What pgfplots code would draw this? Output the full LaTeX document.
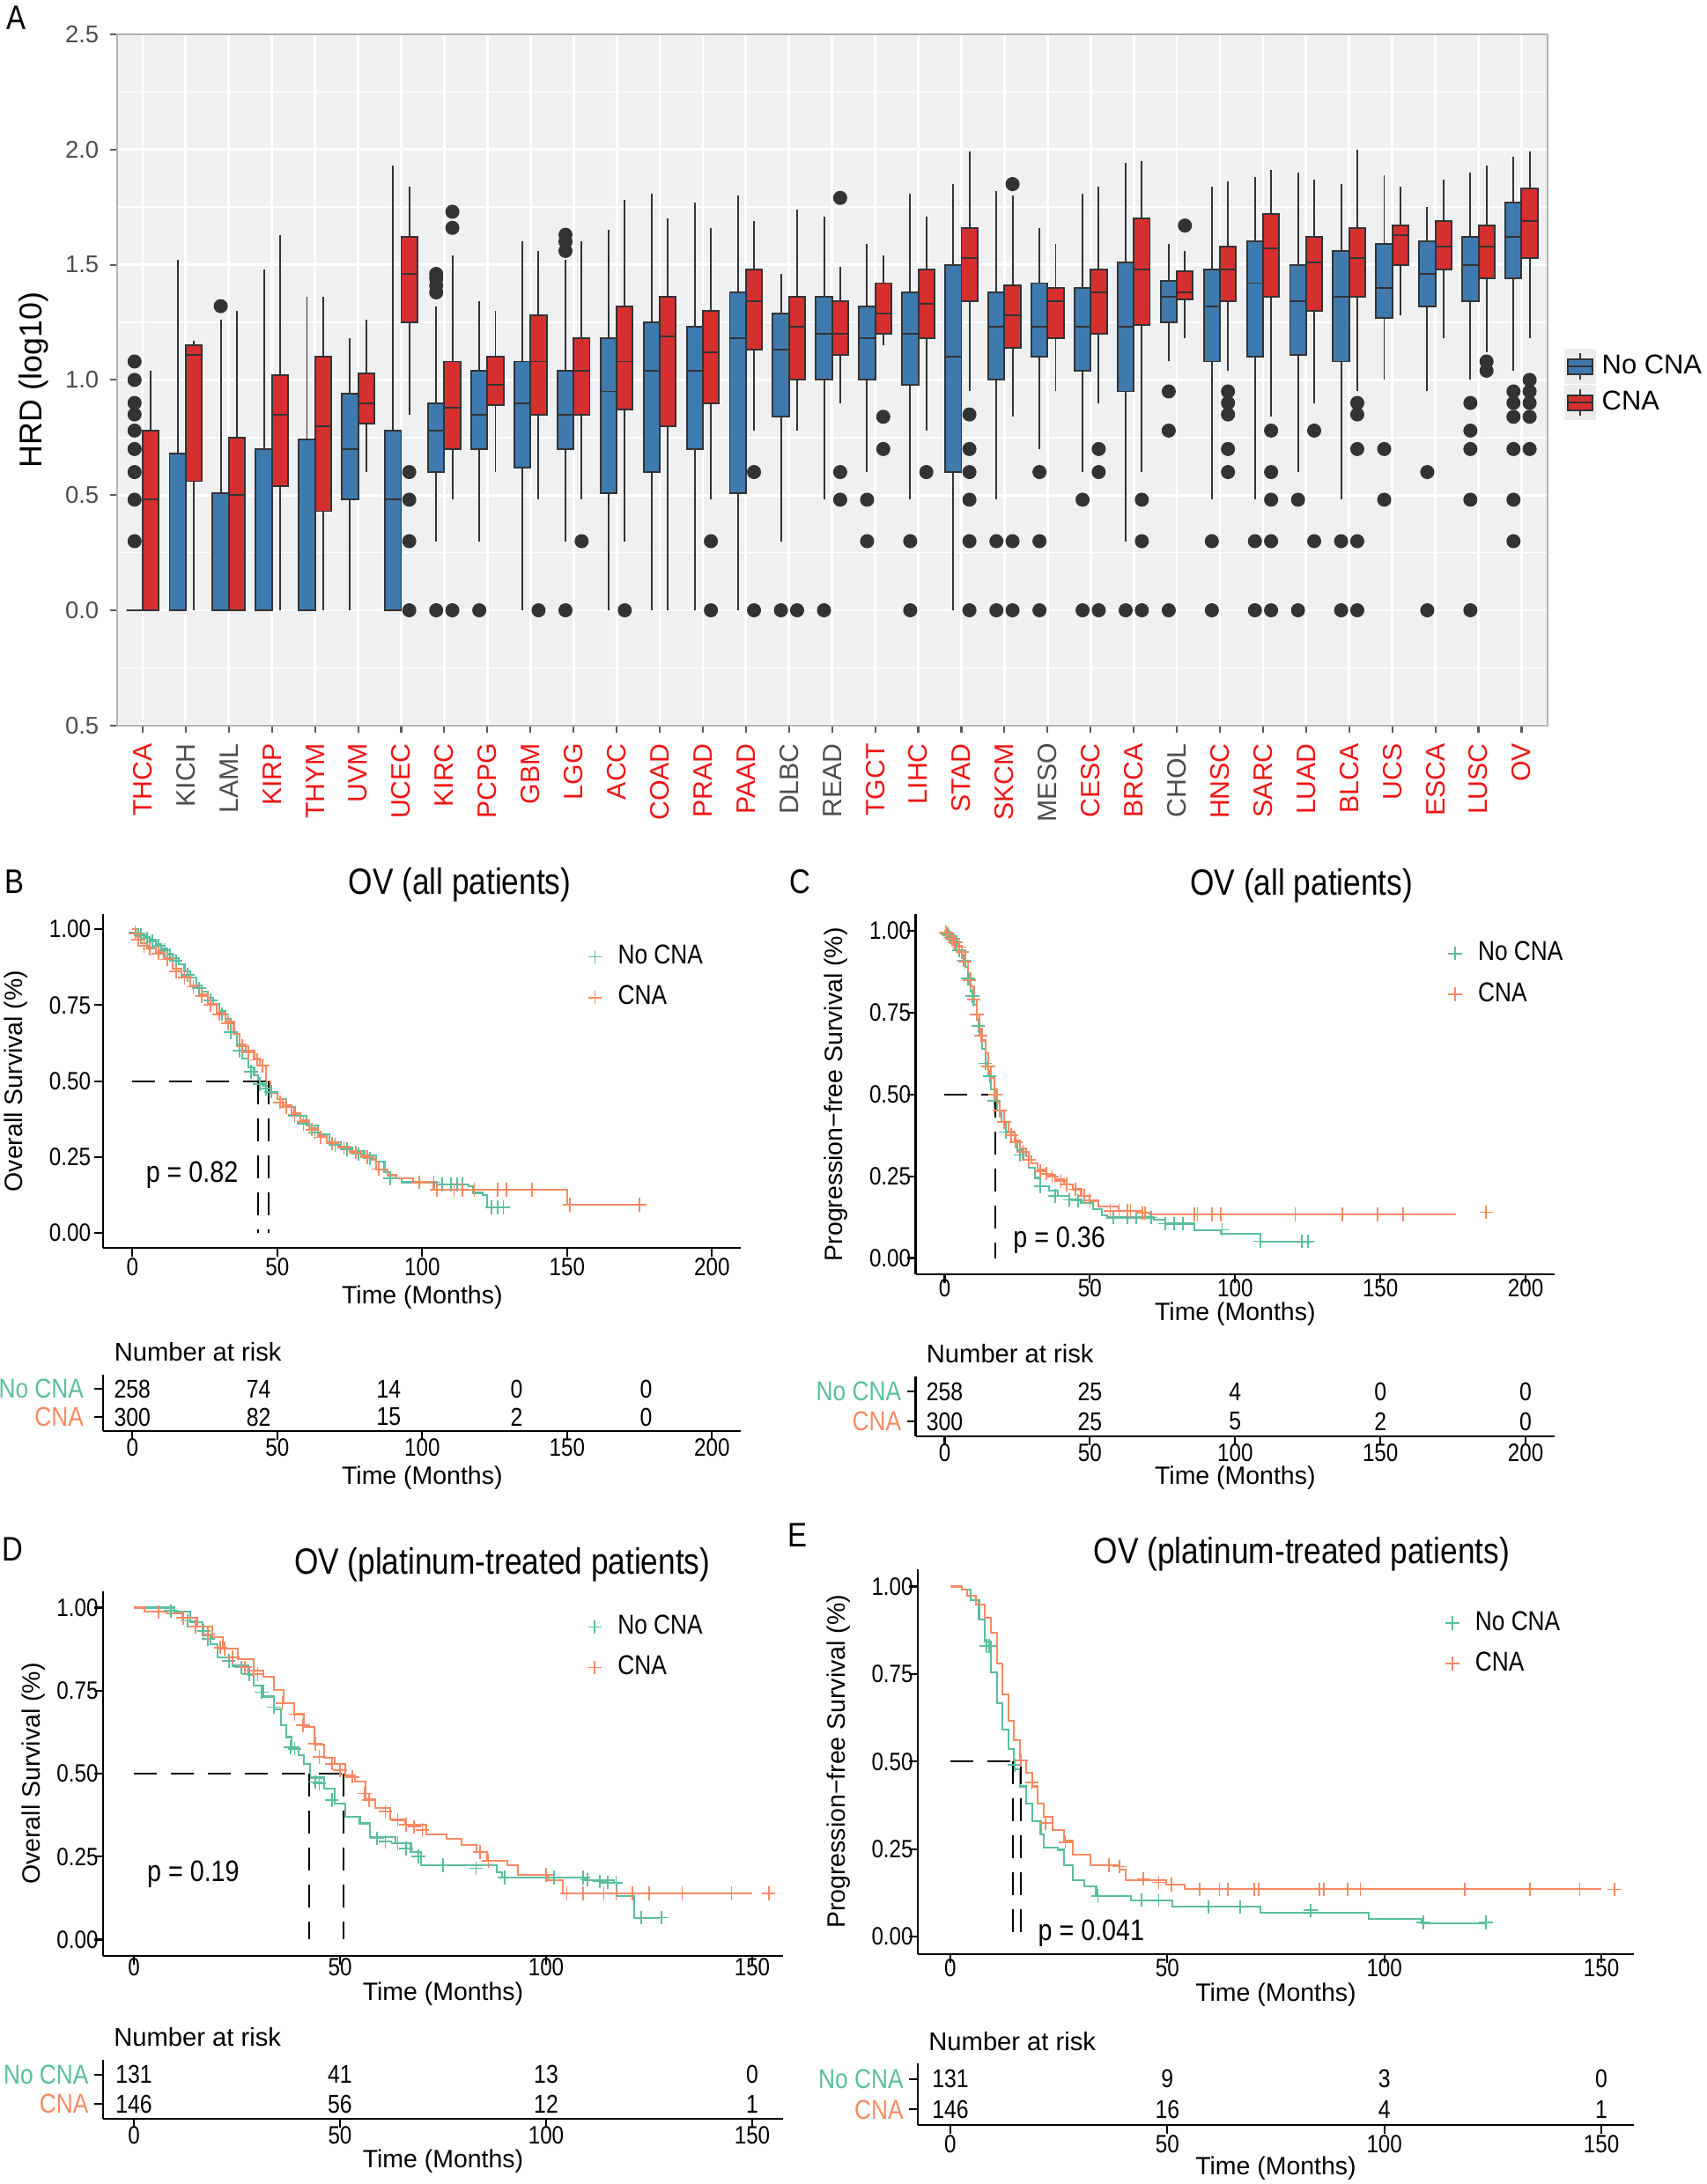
\documentclass[border=0pt]{standalone}
\usepackage{fontspec}
\setmainfont{Liberation Sans}[FakeStretch=0.85]
\newfontfamily\afont{Liberation Sans}
\usepackage{pgfplots}
\pgfplotsset{compat=1.18}
\usepgfplotslibrary{statistics}

\definecolor{boxblue}{HTML}{3F7AAE}
\definecolor{boxred}{HTML}{D62F2F}
\definecolor{dk}{HTML}{333333}
\definecolor{bgc}{HTML}{EFF0F1}
\definecolor{catred}{HTML}{F01414}
\definecolor{catgray}{HTML}{4D4D4D}
\definecolor{ncc}{HTML}{5BBE9F}
\definecolor{cnc}{HTML}{F88A63}

\pgfkeys{/pgf/number format/assume math mode=true}
\pgfplotsset{
  nc/.style={draw=dk, fill=boxblue, line width=0.55pt, mark=*, mark size=2pt, mark options={draw=dk, fill=dk}},
  cn/.style={draw=dk, fill=boxred, line width=0.55pt, mark=*, mark size=2pt, mark options={draw=dk, fill=dk}},
  bp/.style n args={6}{boxplot prepared={draw position=#1, lower whisker=#2, lower quartile=#3, median=#4, upper quartile=#5, upper whisker=#6}},
  km/.style={scale only axis, anchor=south west, axis lines=left,
    axis line style={-, line width=0.6pt, black}, tick align=outside,
    major tick length=1mm, tick style={black, line width=0.6pt},
    every tick label/.append style={font=\fontsize{8.1}{9.5}\selectfont},
    label style={font=\afont\fontsize{8.1}{9.5}\selectfont},
    title style={font=\fontsize{11.8}{14}\selectfont},
    legend cell align=left,
    legend style={draw=none, fill=none, font=\fontsize{8.8}{10.5}\selectfont, inner sep=0pt, row sep=1.5pt},
    legend image code/.code={\path[draw=none, fill=none] (0cm,-0.15cm) rectangle (0.3cm,0.15cm); \draw[#1] plot coordinates {(0.11cm,0cm)};}},
  kmplot/.style={km, ymin=-0.05, ymax=1.05, ytick={0,0.25,0.5,0.75,1},
    yticklabel style={/pgf/number format/fixed, /pgf/number format/fixed zerofill, /pgf/number format/precision=2},
    xlabel={Time (Months)}},
  kmtab/.style={km, ymin=0.5, ymax=2.5, ytick={1,2},
    yticklabels={{\color{cnc}CNA},{\color{ncc}No CNA}},
    yticklabel style={font=\fontsize{8.8}{10}\selectfont},
    title={Number at risk}, title style={at={(0,1)}, anchor=base west, yshift=-0.6mm, font=\afont\fontsize{8.3}{10}\selectfont},
    xlabel={Time (Months)}},
  kmline/.style={const plot, line width=0.6pt, mark=none},
  cens/.style={only marks, mark=+, mark size=2.2pt, mark options={line width=0.5pt}},
  kmleg/.style={only marks, mark=+, mark size=2.2pt, line width=0.5pt},
  med/.style={black, line width=0.6pt, dash pattern=on 2.6mm off 1.6mm, mark=none},
  risk/.style={draw=none, mark=none, nodes near coords, point meta=explicit symbolic,
    every node near coord/.style={anchor=center, inner sep=0pt, font=\fontsize{8.3}{9.5}\selectfont, black}},
}

\begin{document}
\begin{tikzpicture}
\path[use as bounding box] (0,0) rectangle (19.38cm,-24.80cm);

% ---------------- panel A ----------------
\node[font=\fontsize{11}{13}\selectfont] at (0.18cm,-0.2cm) {A};
\begin{axis}[at={(1.326cm,-8.238cm)}, anchor=south west, scale only axis,
  width=16.242cm, height=7.848cm,
  xmin=0.4, xmax=33.6, ymin=-0.5, ymax=2.5,
  axis background/.style={fill=bgc},
  axis line style={gray!60, line width=0.6pt},
  tick pos=left, tick align=outside, major tick length=0.8mm, minor tick length=0pt,
  tick style={gray!70!black, line width=0.6pt},
  xtick={1,...,33},
  xticklabels={{\color{catred}THCA},{\color{catgray}KICH},{\color{catgray}LAML},{\color{catred}KIRP},{\color{catred}THYM},{\color{catred}UVM},{\color{catred}UCEC},{\color{catred}KIRC},{\color{catred}PCPG},{\color{catred}GBM},{\color{catred}LGG},{\color{catred}ACC},{\color{catred}COAD},{\color{catred}PRAD},{\color{catred}PAAD},{\color{catgray}DLBC},{\color{catgray}READ},{\color{catred}TGCT},{\color{catred}LIHC},{\color{catred}STAD},{\color{catred}SKCM},{\color{catgray}MESO},{\color{catred}CESC},{\color{catred}BRCA},{\color{catgray}CHOL},{\color{catred}HNSC},{\color{catred}SARC},{\color{catred}LUAD},{\color{catred}BLCA},{\color{catred}UCS},{\color{catred}ESCA},{\color{catred}LUSC},{\color{catred}OV}},
  xticklabel style={rotate=90, anchor=east, font=\afont\fontsize{8.6}{10}\selectfont},
  ytick={-0.5,0,0.5,1,1.5,2,2.5}, yticklabels={0.5,0.0,0.5,1.0,1.5,2.0,2.5},
  yticklabel style={font=\afont\fontsize{7.8}{9}\selectfont, text=catgray},
  minor ytick={-0.25,0.25,0.75,1.25,1.75,2.25},
  xmajorgrids, ymajorgrids, yminorgrids,
  major grid style={white, line width=0.8pt}, minor grid style={white, line width=0.4pt},
  ylabel={HRD (log10)},
  ylabel style={at={(axis description cs:-0.058,0.5)}, anchor=center, font=\afont\fontsize{10.2}{12}\selectfont},
  boxplot/draw direction=y, boxplot/box extend=0.375, boxplot/whisker extend=0,
  legend style={at={(1.0112,0.493)}, anchor=west, draw=none, fill=none,
    font=\afont\fontsize{8.8}{11}\selectfont, inner sep=0pt, row sep=0pt},
  legend cell align=left,
  legend image code/.code={
    \fill[gray!15] (0cm,-0.19cm) rectangle (0.34cm,0.19cm);
    \draw[#1] (0.17cm,-0.15cm) -- (0.17cm,0.15cm);
    \draw[#1] (0.03cm,-0.085cm) rectangle (0.31cm,0.085cm);
    \draw[#1] (0.03cm,0cm) -- (0.31cm,0cm);},
]
\addlegendimage{draw=dk, fill=boxblue, line width=0.55pt}\addlegendentry{No CNA}
\addlegendimage{draw=dk, fill=boxred, line width=0.55pt}\addlegendentry{CNA}

\addplot[nc, bp={0.8125}{0}{0}{0}{0}{0}] coordinates {(0,0.30)(0,0.48)(0,0.60)(0,0.70)(0,0.78)(0,0.85)(0,0.90)(0,1.00)(0,1.08)};
\addplot[cn, bp={1.1875}{0}{0}{0.48}{0.78}{1.04}] coordinates {};
\addplot[nc, bp={1.8125}{0}{0}{0}{0.68}{1.52}] coordinates {};
\addplot[cn, bp={2.1875}{0}{0.56}{1.11}{1.15}{1.17}] coordinates {};
\addplot[nc, bp={2.8125}{0}{0}{0}{0.51}{1.26}] coordinates {(0,1.32)};
\addplot[cn, bp={3.1875}{0}{0}{0.50}{0.75}{1.30}] coordinates {};
\addplot[nc, bp={3.8125}{0}{0}{0}{0.70}{1.48}] coordinates {};
\addplot[cn, bp={4.1875}{0}{0.54}{0.85}{1.02}{1.63}] coordinates {};
\addplot[nc, bp={4.8125}{0}{0}{0}{0.74}{1.36}] coordinates {};
\addplot[cn, bp={5.1875}{0}{0.43}{0.80}{1.10}{1.36}] coordinates {};
\addplot[nc, bp={5.8125}{0}{0.48}{0.70}{0.94}{1.18}] coordinates {};
\addplot[cn, bp={6.1875}{0.60}{0.81}{0.90}{1.03}{1.26}] coordinates {};
\addplot[nc, bp={6.8125}{0}{0}{0.48}{0.78}{1.93}] coordinates {};
\addplot[cn, bp={7.1875}{0.85}{1.25}{1.46}{1.62}{1.84}] coordinates {(0,0.60)(0,0.48)(0,0.30)(0,0)};
\addplot[nc, bp={7.8125}{0.30}{0.60}{0.78}{0.90}{1.32}] coordinates {(0,1.38)(0,1.41)(0,1.44)(0,1.46)(0,0)};
\addplot[cn, bp={8.1875}{0.48}{0.70}{0.88}{1.08}{1.54}] coordinates {(0,1.66)(0,1.73)(0,0)};
\addplot[nc, bp={8.8125}{0.30}{0.70}{0.85}{1.04}{1.34}] coordinates {(0,0)};
\addplot[cn, bp={9.1875}{0.60}{0.89}{0.98}{1.10}{1.30}] coordinates {};
\addplot[nc, bp={9.8125}{0}{0.62}{0.90}{1.08}{1.60}] coordinates {};
\addplot[cn, bp={10.1875}{0.48}{0.85}{1.08}{1.28}{1.56}] coordinates {(0,0)};
\addplot[nc, bp={10.8125}{0.30}{0.70}{0.85}{1.04}{1.52}] coordinates {(0,1.56)(0,1.60)(0,1.63)(0,0)};
\addplot[cn, bp={11.1875}{0.48}{0.85}{1.04}{1.18}{1.60}] coordinates {(0,0.30)};
\addplot[nc, bp={11.8125}{0}{0.51}{0.95}{1.18}{1.65}] coordinates {};
\addplot[cn, bp={12.1875}{0.30}{0.87}{1.08}{1.32}{1.78}] coordinates {(0,0)};
\addplot[nc, bp={12.8125}{0}{0.60}{1.04}{1.25}{1.81}] coordinates {};
\addplot[cn, bp={13.1875}{0}{0.80}{1.19}{1.36}{1.70}] coordinates {};
\addplot[nc, bp={13.8125}{0}{0.70}{1.04}{1.23}{1.77}] coordinates {};
\addplot[cn, bp={14.1875}{0.48}{0.90}{1.12}{1.30}{1.66}] coordinates {(0,0.30)(0,0)};
\addplot[nc, bp={14.8125}{0}{0.51}{1.18}{1.38}{1.80}] coordinates {};
\addplot[cn, bp={15.1875}{0.78}{1.13}{1.34}{1.48}{1.69}] coordinates {(0,0.60)(0,0)};
\addplot[nc, bp={15.8125}{0.30}{0.84}{1.13}{1.29}{1.46}] coordinates {(0,0)};
\addplot[cn, bp={16.1875}{0.78}{1.00}{1.23}{1.36}{1.74}] coordinates {(0,0)};
\addplot[nc, bp={16.8125}{0.48}{1.00}{1.20}{1.36}{1.71}] coordinates {(0,0)};
\addplot[cn, bp={17.1875}{0.90}{1.11}{1.20}{1.34}{1.49}] coordinates {(0,1.79)(0,0.60)(0,0.48)};
\addplot[nc, bp={17.8125}{0.60}{1.00}{1.18}{1.32}{1.59}] coordinates {(0,0.48)(0,0.30)};
\addplot[cn, bp={18.1875}{1.15}{1.20}{1.29}{1.42}{1.54}] coordinates {(0,0.84)(0,0.70)};
\addplot[nc, bp={18.8125}{0.48}{0.98}{1.20}{1.38}{1.81}] coordinates {(0,0.30)(0,0)};
\addplot[cn, bp={19.1875}{0.78}{1.18}{1.33}{1.48}{1.71}] coordinates {(0,0.60)};
\addplot[nc, bp={19.8125}{0}{0.60}{1.10}{1.50}{1.85}] coordinates {};
\addplot[cn, bp={20.1875}{0.95}{1.34}{1.53}{1.66}{1.99}] coordinates {(0,0.85)(0,0.70)(0,0.60)(0,0.48)(0,0.30)(0,0)};
\addplot[nc, bp={20.8125}{0.48}{1.00}{1.23}{1.38}{1.82}] coordinates {(0,0.30)(0,0)};
\addplot[cn, bp={21.1875}{0.84}{1.14}{1.28}{1.41}{1.80}] coordinates {(0,1.85)(0,0.30)(0,0)};
\addplot[nc, bp={21.8125}{0.70}{1.10}{1.23}{1.42}{1.66}] coordinates {(0,0.60)(0,0.30)(0,0)};
\addplot[cn, bp={22.1875}{0.95}{1.18}{1.34}{1.40}{1.59}] coordinates {};
\addplot[nc, bp={22.8125}{0.60}{1.04}{1.23}{1.40}{1.81}] coordinates {(0,0.48)(0,0)};
\addplot[cn, bp={23.1875}{0.90}{1.20}{1.38}{1.48}{1.84}] coordinates {(0,0.70)(0,0.60)(0,0)};
\addplot[nc, bp={23.8125}{0.30}{0.95}{1.23}{1.51}{1.94}] coordinates {(0,0)};
\addplot[cn, bp={24.1875}{0.60}{1.24}{1.48}{1.70}{1.95}] coordinates {(0,0.48)(0,0.30)(0,0)};
\addplot[nc, bp={24.8125}{1.08}{1.25}{1.36}{1.43}{1.59}] coordinates {(0,0.95)(0,0.78)(0,0)};
\addplot[cn, bp={25.1875}{1.18}{1.35}{1.38}{1.47}{1.56}] coordinates {(0,1.67)};
\addplot[nc, bp={25.8125}{0.48}{1.08}{1.32}{1.48}{1.84}] coordinates {(0,0.30)(0,0)};
\addplot[cn, bp={26.1875}{1.04}{1.34}{1.48}{1.58}{1.86}] coordinates {(0,0.95)(0,0.90)(0,0.85)(0,0.70)(0,0.60)};
\addplot[nc, bp={26.8125}{0.48}{1.10}{1.42}{1.60}{1.88}] coordinates {(0,0.30)(0,0)};
\addplot[cn, bp={27.1875}{0.84}{1.36}{1.57}{1.72}{1.91}] coordinates {(0,0.78)(0,0.60)(0,0.48)(0,0.30)(0,0)};
\addplot[nc, bp={27.8125}{0.60}{1.11}{1.34}{1.50}{1.90}] coordinates {(0,0.48)(0,0)};
\addplot[cn, bp={28.1875}{0.90}{1.30}{1.51}{1.62}{1.87}] coordinates {(0,0.78)(0,0.30)};
\addplot[nc, bp={28.8125}{0.48}{1.08}{1.36}{1.56}{1.85}] coordinates {(0,0.30)(0,0)};
\addplot[cn, bp={29.1875}{0.95}{1.36}{1.53}{1.66}{2.00}] coordinates {(0,0.90)(0,0.85)(0,0.70)(0,0.30)(0,0)};
\addplot[nc, bp={29.8125}{1.00}{1.27}{1.40}{1.59}{1.89}] coordinates {(0,0.70)(0,0.48)};
\addplot[cn, bp={30.1875}{1.28}{1.50}{1.63}{1.67}{1.84}] coordinates {};
\addplot[nc, bp={30.8125}{0.95}{1.32}{1.46}{1.60}{1.75}] coordinates {(0,0.60)(0,0)};
\addplot[cn, bp={31.1875}{1.18}{1.48}{1.58}{1.69}{1.87}] coordinates {};
\addplot[nc, bp={31.8125}{1.00}{1.34}{1.50}{1.62}{1.90}] coordinates {(0,0.90)(0,0.78)(0,0.70)(0,0.48)(0,0)};
\addplot[cn, bp={32.1875}{1.12}{1.44}{1.58}{1.67}{1.93}] coordinates {(0,1.08)(0,1.04)};
\addplot[nc, bp={32.8125}{1.04}{1.44}{1.62}{1.77}{1.97}] coordinates {(0,0.95)(0,0.90)(0,0.84)(0,0.70)(0,0.48)(0,0.30)};
\addplot[cn, bp={33.1875}{1.18}{1.53}{1.69}{1.83}{1.99}] coordinates {(0,1.00)(0,0.95)(0,0.90)(0,0.84)(0,0.70)};
\end{axis}

% ---------------- panel B ----------------
\node[font=\fontsize{11}{13}\selectfont] at (0.16cm,-10.01cm) {B};
\begin{axis}[kmplot, at={(1.174cm,-14.173cm)}, width=7.238cm, height=3.795cm,
  xmin=-10, xmax=210, xtick={0,50,100,150,200},
  xticklabel style={yshift=1.1mm}, yticklabel style={xshift=0.8mm},
  xlabel style={at={(axis description cs:0.5,0)}, anchor=center, yshift=-5.6mm},
  ylabel={Overall Survival (\%)}, ylabel style={at={(axis description cs:-0.137,0.5)}, anchor=center},
  title={OV (all patients)}, title style={at={(0.559,1)}, anchor=base, yshift=0.08mm},
  legend style={at={(0.755,0.811)}, anchor=west}]
\addlegendimage{kmleg, ncc}\addlegendentry{No CNA}
\addlegendimage{kmleg, cnc}\addlegendentry{CNA}
\addplot[kmline, ncc] coordinates {(0,1) (2,0.985) (4,0.975) (6,0.965) (8,0.95) (10,0.935) (12,0.92) (14,0.905) (16,0.885) (18,0.86) (20,0.84) (22,0.815) (24,0.795) (26,0.775) (28,0.755) (30,0.73) (32,0.705) (34,0.66) (36,0.62) (38,0.575) (40,0.545) (42,0.52) (43.5,0.50) (45,0.485) (47,0.465) (50,0.44) (53,0.415) (56,0.385) (60,0.355) (64,0.325) (68,0.30) (72,0.28) (76,0.27) (80,0.255) (84,0.235) (87,0.20) (89,0.18) (93,0.167) (105,0.16) (116,0.155) (117.5,0.132) (121,0.125) (122.5,0.084) (128,0.084)};
\addplot[kmline, cnc] coordinates {(0,1) (1,0.975) (3,0.955) (5,0.94) (8,0.925) (11,0.905) (14,0.87) (17,0.845) (20,0.815) (23,0.785) (26,0.755) (29,0.725) (32,0.695) (35,0.655) (37,0.62) (39,0.60) (42,0.575) (44,0.55) (46,0.50) (47.5,0.46) (50,0.44) (52,0.42) (55,0.395) (58,0.37) (61,0.345) (64,0.32) (67,0.30) (71,0.285) (75,0.27) (79,0.255) (82,0.24) (84,0.21) (88,0.19) (91,0.18) (97,0.167) (104,0.142) (150,0.093) (176,0.093)};
\addplot[cens, ncc] coordinates {(1,0.99)(3,0.98)(5,0.97)(7,0.96)(9,0.945)(11,0.93)(13,0.915)(15,0.895)(19,0.85)(23,0.805)(27,0.765)(31,0.72)(34,0.66)(37,0.6)(41,0.53)(44,0.49)(46,0.475)(48,0.465)(56,0.385)(59,0.36)(63,0.33)(70,0.29)(74,0.275)(78,0.26)(82,0.245)(89,0.18)(104,0.167)(107,0.16)(110,0.16)(112,0.16)(114,0.16)(124,0.084)(126,0.084)(128,0.084)};
\addplot[cens, cnc] coordinates {(1,0.985)(2,0.965)(4,0.945)(6,0.935)(9,0.92)(12,0.9)(15,0.86)(18,0.84)(21,0.81)(24,0.78)(27,0.75)(30,0.72)(33,0.69)(38,0.615)(40,0.595)(43,0.57)(45,0.55)(51,0.43)(53,0.415)(56,0.39)(59,0.365)(62,0.34)(65,0.315)(69,0.295)(73,0.28)(77,0.265)(81,0.25)(85,0.21)(99,0.167)(105,0.142)(111,0.142)(114,0.142)(118,0.142)(126,0.142)(129,0.142)(138,0.142)(151,0.093)(175,0.093)};
\addplot[med] coordinates {(0,0.5) (47,0.5)};
\addplot[med] coordinates {(43.5,0.5) (43.5,0)};
\addplot[med] coordinates {(47,0.5) (47,0)};
\node[anchor=west, inner sep=0pt, font=\fontsize{9.6}{11}\selectfont] at (axis cs:4.5,0.19) {p = 0.82};
\end{axis}
\begin{axis}[kmtab, at={(1.174cm,-16.25cm)}, width=7.238cm, height=0.64cm,
  xmin=-10, xmax=210, xtick={0,50,100,150,200},
  xticklabel style={yshift=1.4mm},
  xlabel style={at={(axis description cs:0.5,0)}, anchor=center, yshift=-5.3mm}]
\addplot[risk] coordinates {(0,2)[258] (43.6,2)[74] (88.5,2)[14] (132.6,2)[0] (177.3,2)[0]};
\addplot[risk] coordinates {(0,1)[300] (43.6,1)[82] (88.5,1)[15] (132.6,1)[2] (177.3,1)[0]};
\end{axis}

% ---------------- panel C ----------------
\node[font=\fontsize{11}{13}\selectfont] at (9.08cm,-10.01cm) {C};
\begin{axis}[kmplot, at={(10.395cm,-14.471cm)}, width=7.256cm, height=4.087cm,
  xmin=-10, xmax=210, xtick={0,50,100,150,200},
  xticklabel style={yshift=1.7mm}, yticklabel style={xshift=1.7mm},
  xlabel style={at={(axis description cs:0.5,0)}, anchor=center, yshift=-4.5mm},
  ylabel={Progression−free Survival (\%)}, ylabel style={at={(axis description cs:-0.125,0.5)}, anchor=center},
  title={OV (all patients)}, title style={at={(0.604,1)}, anchor=base, yshift=0.08mm},
  legend style={at={(0.828,0.835)}, anchor=west}]
\addlegendimage{kmleg, ncc}\addlegendentry{No CNA}
\addlegendimage{kmleg, cnc}\addlegendentry{CNA}
\addplot[kmline, ncc] coordinates {(0,1) (1.5,0.985) (3,0.975) (4.5,0.955) (6,0.925) (7,0.89) (8,0.855) (9,0.815) (10,0.775) (11,0.73) (12,0.685) (13,0.64) (14,0.595) (15,0.555) (16,0.515) (17,0.48) (18,0.45) (19.5,0.415) (21,0.385) (23,0.355) (25,0.33) (27,0.30) (29,0.275) (31,0.245) (33,0.22) (36,0.205) (39,0.19) (43,0.178) (47,0.168) (51,0.15) (54,0.13) (56,0.124) (72,0.118) (76,0.105) (86,0.086) (95,0.073) (108.6,0.051) (127,0.051)};
\addplot[kmline, cnc] coordinates {(0,1) (1.5,0.985) (3,0.97) (4.5,0.955) (6,0.935) (7,0.905) (8,0.87) (9,0.83) (10,0.79) (11,0.745) (12,0.70) (13,0.665) (14,0.625) (15,0.585) (16,0.55) (17,0.515) (18,0.475) (19,0.45) (20.5,0.415) (22,0.385) (24,0.36) (26,0.335) (28,0.31) (30,0.29) (32,0.27) (35,0.255) (38,0.24) (41,0.225) (44,0.21) (47,0.19) (50,0.175) (53,0.157) (60,0.145) (68,0.138) (70.5,0.133) (176,0.133)};
\addplot[cens, ncc] coordinates {(1,0.99)(2,0.98)(3,0.975)(4,0.965)(5,0.94)(6.5,0.91)(8,0.855)(9.5,0.8)(11.5,0.71)(14,0.595)(15.5,0.555)(17,0.48)(21,0.385)(26,0.315)(33,0.22)(38,0.19)(43,0.178)(46,0.175)(58,0.124)(63,0.124)(66,0.124)(71,0.124)(76,0.105)(79,0.105)(82,0.105)(95.5,0.086)(108.6,0.051)(123,0.051)(125,0.051)};
\addplot[cens, cnc] coordinates {(0.5,0.995)(1.5,0.985)(2.5,0.975)(3.5,0.965)(5,0.95)(6,0.935)(7,0.905)(8.5,0.85)(10,0.79)(11,0.745)(12.5,0.68)(15,0.585)(17.5,0.5)(19,0.45)(20.5,0.415)(23,0.375)(24.5,0.355)(27,0.325)(29,0.3)(33,0.265)(35,0.258)(37,0.25)(40,0.235)(42,0.225)(45,0.21)(48,0.19)(50,0.177)(57,0.145)(60,0.145)(63,0.145)(64,0.145)(68,0.138)(69,0.138)(86,0.133)(87,0.133)(92,0.133)(95,0.133)(120.7,0.133)(137,0.133)(149,0.133)(157.7,0.133)(186.4,0.14)};
\addplot[med] coordinates {(0,0.5) (17.3,0.5)};
\addplot[med] coordinates {(17.3,0.5) (17.3,0)};
\node[anchor=west, inner sep=0pt, font=\fontsize{9.6}{11}\selectfont] at (axis cs:23.4,0.056) {p = 0.36};
\end{axis}
\begin{axis}[kmtab, at={(10.395cm,-16.31cm)}, width=7.256cm, height=0.68cm,
  xmin=-10, xmax=210, xtick={0,50,100,150,200},
  xticklabel style={yshift=1.4mm}, yticklabel style={xshift=0.6mm},
  xlabel style={at={(axis description cs:0.5,0)}, anchor=center, yshift=-4.7mm}]
\addplot[risk] coordinates {(0,2)[258] (50,2)[25] (100,2)[4] (150,2)[0] (200,2)[0]};
\addplot[risk] coordinates {(0,1)[300] (50,1)[25] (100,1)[5] (150,1)[2] (200,1)[0]};
\end{axis}

% ---------------- panel D ----------------
\node[font=\fontsize{11}{13}\selectfont] at (0.14cm,-17.59cm) {D};
\begin{axis}[kmplot, at={(1.169cm,-22.213cm)}, width=7.722cm, height=4.147cm,
  xmin=-7.5, xmax=157.5, xtick={0,50,100,150},
  xticklabel style={yshift=2.0mm}, yticklabel style={xshift=1.7mm},
  xlabel style={at={(axis description cs:0.5,0)}, anchor=center, yshift=-4.3mm},
  ylabel={Overall Survival (\%)}, ylabel style={at={(axis description cs:-0.102,0.5)}, anchor=center},
  title={OV (platinum-treated patients)}, title style={at={(0.587,1)}, anchor=base, yshift=-0.24mm},
  legend style={at={(0.708,0.846)}, anchor=west}]
\addlegendimage{kmleg, ncc}\addlegendentry{No CNA}
\addlegendimage{kmleg, cnc}\addlegendentry{CNA}
\addplot[kmline, ncc] coordinates {(0,1) (9.9,0.987) (13.6,0.956) (16.6,0.917) (18.5,0.89) (20.3,0.851) (24,0.825) (27.7,0.798) (29,0.765) (31.4,0.732) (33.9,0.693) (35.7,0.646) (37,0.61) (38.2,0.58) (40,0.555) (41.3,0.528) (42.8,0.488) (46.2,0.455) (48.7,0.409) (51.2,0.369) (54.8,0.35) (57.3,0.31) (63.5,0.29) (67.2,0.264) (69.6,0.224) (88.1,0.204) (89.4,0.187) (109.5,0.18) (116.5,0.172) (117.1,0.132) (121.4,0.066) (127.6,0.066)};
\addplot[kmline, cnc] coordinates {(0,1) (2.5,0.987) (8,0.983) (11.7,0.97) (15.4,0.943) (19.1,0.91) (21.6,0.877) (25.3,0.844) (29,0.811) (31.4,0.792) (33.9,0.752) (36.4,0.712) (38.8,0.679) (41.3,0.64) (43.8,0.587) (46.2,0.547) (48.7,0.528) (51.2,0.495) (53.6,0.475) (56.1,0.422) (58.5,0.396) (62.2,0.363) (65.9,0.346) (70.9,0.317) (75.8,0.303) (79.5,0.284) (83.2,0.264) (85.7,0.237) (90.6,0.224) (93.1,0.195) (100.5,0.178) (104.1,0.139) (150,0.139)};
\addplot[cens, ncc] coordinates {(9,0.99)(13,0.96)(17,0.93)(18,0.905)(23,0.84)(26,0.82)(28,0.8)(31,0.745)(34,0.7)(38,0.58)(39,0.575)(44,0.475)(45,0.47)(48,0.42)(59,0.305)(61,0.295)(64,0.29)(66,0.275)(69,0.25)(75,0.224)(83,0.215)(90,0.187)(102,0.187)(109,0.187)(110,0.18)(113,0.175)(115,0.172)(117,0.172)(123,0.066)(128,0.066)};
\addplot[cens, cnc] coordinates {(6,0.987)(12,0.97)(15,0.943)(18,0.92)(21,0.88)(22,0.877)(24,0.85)(27,0.82)(29,0.811)(30,0.8)(36,0.712)(39,0.679)(41,0.645)(44,0.59)(45,0.55)(48,0.53)(50,0.51)(53,0.49)(56,0.44)(57,0.42)(61,0.385)(64,0.36)(66,0.346)(68,0.34)(70,0.33)(84,0.264)(86,0.237)(100,0.195)(105,0.139)(109,0.139)(114,0.139)(117,0.139)(121,0.139)(125,0.139)(133,0.139)(145,0.139)(154,0.139)};
\addplot[med] coordinates {(0,0.5) (50.8,0.5)};
\addplot[med] coordinates {(42.5,0.5) (42.5,0)};
\addplot[med] coordinates {(50.8,0.5) (50.8,0)};
\node[anchor=west, inner sep=0pt, font=\fontsize{9.6}{11}\selectfont] at (axis cs:3.1,0.198) {p = 0.19};
\end{axis}
\begin{axis}[kmtab, at={(1.169cm,-24.057cm)}, width=7.722cm, height=0.668cm,
  xmin=-7.5, xmax=157.5, xtick={0,50,100,150},
  xticklabel style={yshift=1.4mm}, yticklabel style={xshift=0.6mm},
  xlabel style={at={(axis description cs:0.5,0)}, anchor=center, yshift=-4.8mm}]
\addplot[risk] coordinates {(0,2)[131] (50,2)[41] (100,2)[13] (150,2)[0]};
\addplot[risk] coordinates {(0,1)[146] (50,1)[56] (100,1)[12] (150,1)[1]};
\end{axis}

% ---------------- panel E ----------------
\node[font=\fontsize{11}{13}\selectfont] at (9.05cm,-17.43cm) {E};
\begin{axis}[kmplot, at={(10.42cm,-22.189cm)}, width=8.13cm, height=4.373cm,
  xmin=-7.5, xmax=157.5, xtick={0,50,100,150},
  xticklabel style={yshift=1.7mm}, yticklabel style={xshift=1.7mm},
  xlabel style={at={(axis description cs:0.5,0)}, anchor=center, yshift=-4.6mm},
  ylabel={Progression−free Survival (\%)}, ylabel style={at={(axis description cs:-0.111,0.5)}, anchor=center},
  title={OV (platinum-treated patients)}, title style={at={(0.536,1)}, anchor=base, yshift=-1.5mm},
  legend style={at={(0.732,0.807)}, anchor=west}]
\addlegendimage{kmleg, ncc}\addlegendentry{No CNA}
\addlegendimage{kmleg, cnc}\addlegendentry{CNA}
\addplot[kmline, ncc] coordinates {(0,1) (2.6,0.992) (4.6,0.961) (6.6,0.905) (8,0.842) (9.3,0.755) (10.7,0.667) (12,0.592) (13.4,0.536) (14.7,0.479) (16.1,0.429) (17.4,0.379) (18.8,0.329) (20.8,0.292) (21.5,0.254) (24.8,0.248) (26.2,0.204) (28.2,0.16) (30.9,0.144) (33.6,0.116) (41.7,0.104) (51.2,0.085) (71.4,0.069) (96.4,0.051) (108.5,0.037) (123.4,0.037)};
\addplot[kmline, cnc] coordinates {(0,1) (2.6,0.992) (3.9,0.974) (5.9,0.949) (8,0.911) (9.3,0.867) (10.7,0.78) (12,0.692) (13.4,0.617) (14.7,0.561) (16.1,0.504) (17.4,0.467) (18.8,0.429) (20.1,0.379) (21.5,0.342) (23.5,0.304) (26.2,0.273) (28.2,0.235) (32.3,0.204) (39,0.191) (40.4,0.16) (49.8,0.148) (53.9,0.135) (150,0.135)};
\addplot[cens, ncc] coordinates {(8.3,0.83)(9,0.83)(14.8,0.49)(34,0.116)(44,0.104)(48,0.104)(59.5,0.085)(66.8,0.085)(83,0.075)(109,0.04)(123.4,0.04)};
\addplot[cens, cnc] coordinates {(16.3,0.504)(18.8,0.44)(22,0.325)(26.5,0.27)(36.5,0.204)(39,0.2)(44.5,0.165)(48,0.155)(51,0.148)(57.5,0.135)(62,0.135)(64,0.135)(70,0.135)(71,0.135)(85,0.135)(86,0.135)(91.5,0.135)(94.5,0.135)(118.5,0.135)(133.5,0.135)(145,0.135)(153,0.135)};
\addplot[med] coordinates {(0,0.5) (16.3,0.5)};
\addplot[med] coordinates {(14.4,0.5) (14.4,0)};
\addplot[med] coordinates {(16.3,0.5) (16.3,0)};
\node[anchor=west, inner sep=0pt, font=\fontsize{9.6}{11}\selectfont] at (axis cs:20.1,0.01) {p = 0.041};
\end{axis}
\begin{axis}[kmtab, at={(10.42cm,-24.128cm)}, width=8.13cm, height=0.696cm,
  xmin=-7.5, xmax=157.5, xtick={0,50,100,150},
  xticklabel style={yshift=1.1mm}, yticklabel style={xshift=0.6mm},
  xlabel style={at={(axis description cs:0.5,0)}, anchor=center, yshift=-4.9mm}]
\addplot[risk] coordinates {(0,2)[131] (50,2)[9] (100,2)[3] (150,2)[0]};
\addplot[risk] coordinates {(0,1)[146] (50,1)[16] (100,1)[4] (150,1)[1]};
\end{axis}
\end{tikzpicture}
\end{document}
